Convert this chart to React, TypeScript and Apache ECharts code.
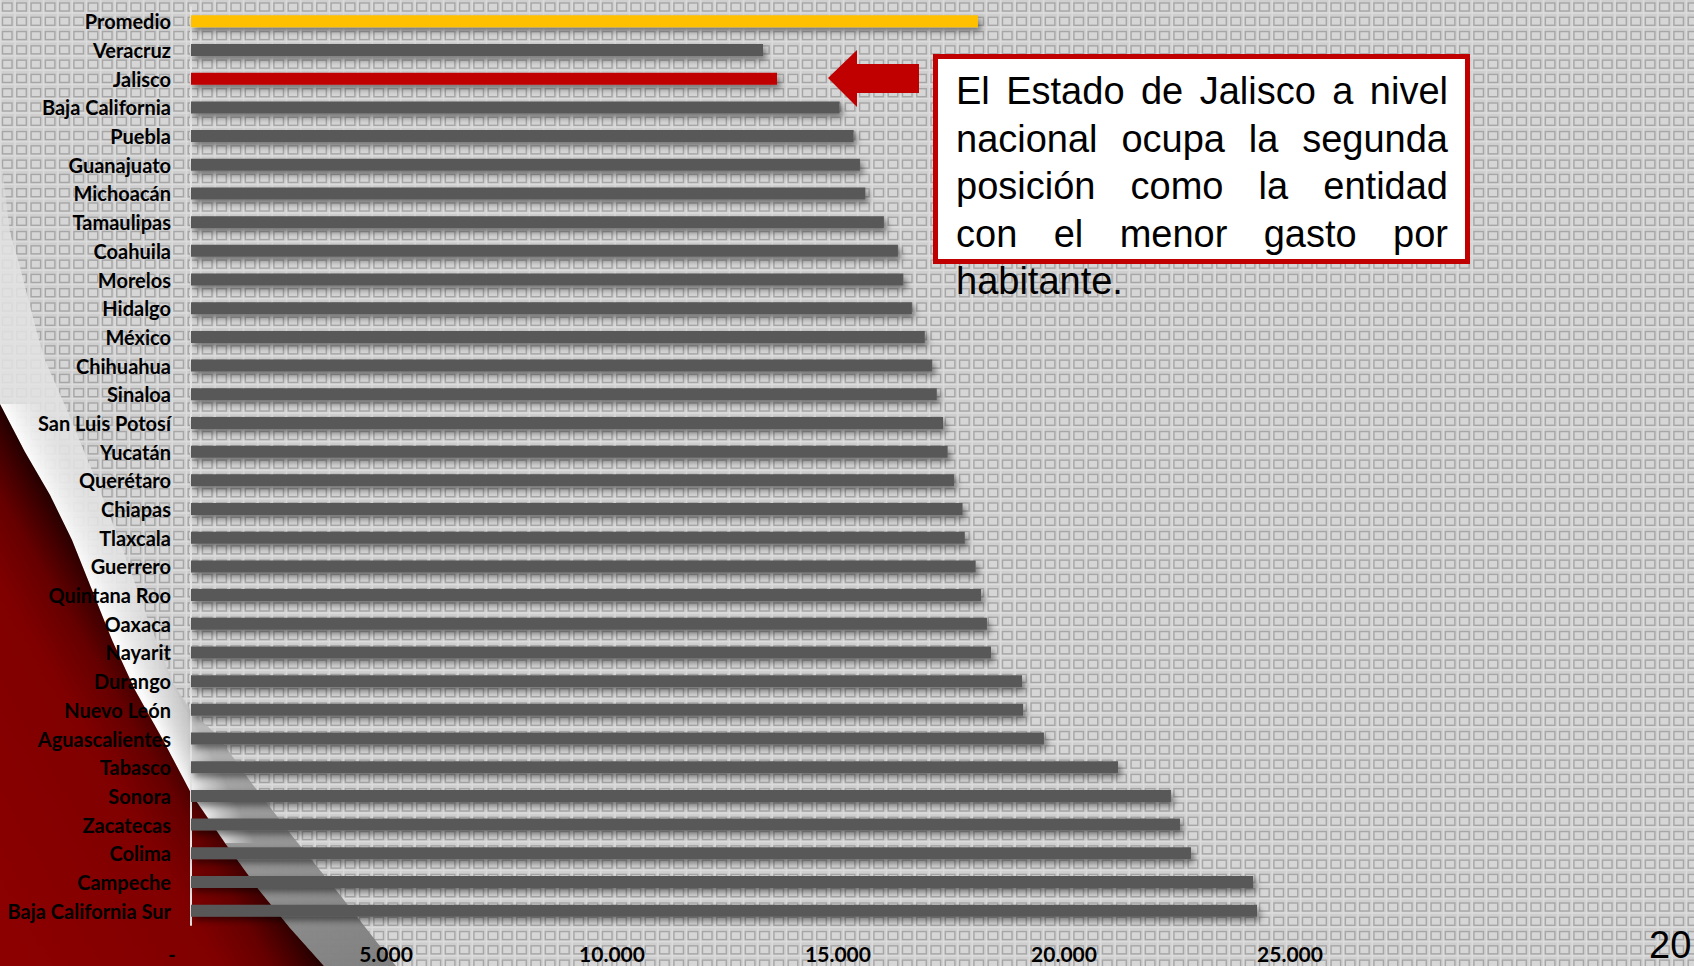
import React, { useEffect, useRef } from "react";
import * as echarts from "echarts";

const W = 1694;
const H = 966;

const categories = [
  "Promedio", "Veracruz", "Jalisco", "Baja California", "Puebla", "Guanajuato",
  "Michoacán", "Tamaulipas", "Coahuila", "Morelos", "Hidalgo", "México",
  "Chihuahua", "Sinaloa", "San Luis Potosí", "Yucatán", "Querétaro", "Chiapas",
  "Tlaxcala", "Guerrero", "Quintana Roo", "Oaxaca", "Nayarit", "Durango",
  "Nuevo León", "Aguascalientes", "Tabasco", "Sonora", "Zacatecas", "Colima",
  "Campeche", "Baja California Sur",
];

const values = [
  17410, 12655, 12965, 14350, 14660, 14800,
  14920, 15330, 15640, 15760, 15950, 16235,
  16400, 16500, 16640, 16740, 16880, 17070,
  17120, 17360, 17480, 17610, 17700, 18385,
  18410, 18870, 20510, 21680, 21880, 22125,
  23500, 23585,
];

const highlightColors: Record<string, string> = {
  Promedio: "#FFC000",
  Jalisco: "#C00000",
};
const defaultBarColor = "#595959";

const xMin = 0;
const xMax = 25000;
const xInterval = 5000;

const annotationLines = [
  "El Estado de Jalisco a nivel",
  "nacional ocupa la segunda",
  "posición como la entidad",
  "con el menor gasto por",
  "habitante.",
];
const pageNumber = "20";

function formatThousands(v: number): string {
  return String(v).replace(/\B(?=(\d{3})+(?!\d))/g, ".");
}

function makePatternCanvas(): HTMLCanvasElement {
  const c = document.createElement("canvas");
  c.width = 100;
  c.height = 100;
  const g = c.getContext("2d")!;
  g.fillStyle = "#cfcfcf";
  g.fillRect(0, 0, 100, 100);
  const p = 100 / 7;
  for (let i = 0; i < 7; i++) {
    for (let j = 0; j < 7; j++) {
      const x0 = i * p;
      const y0 = j * p;
      g.fillStyle = "#dcdcdc";
      g.fillRect(x0, y0, 1.5, p);
      g.fillRect(x0, y0 + p - 2, p, 1.5);
      g.fillStyle = "#d6d6d6";
      g.fillRect(x0 + 2.5, y0 + 3, 9.5, 8);
      g.strokeStyle = "#a6a6a6";
      g.lineWidth = 1.4;
      g.strokeRect(x0 + 2.5, y0 + 3, 9.5, 8);
    }
  }
  return c;
}

export default function App() {
  const ref = useRef<HTMLDivElement>(null);

  useEffect(() => {
    const el = ref.current!;
    const chart = echarts.init(el, undefined, { renderer: "svg", width: W, height: H });

    const patternCanvas = makePatternCanvas();

    // annotation text, justified
    const measure = document.createElement("canvas").getContext("2d")!;
    const annFontSize = 38;
    const annFamily = "Liberation Sans";
    measure.font = `${annFontSize}px "${annFamily}"`;
    const textLeft = 956;
    const textRight = 1448;
    const lineY0 = 91;
    const lineGap = 47.6;
    const annTexts: any[] = [];
    annotationLines.forEach((line, i) => {
      const y = lineY0 + i * lineGap;
      const words = line.split(" ");
      const isLast = i === annotationLines.length - 1;
      if (isLast || words.length < 2) {
        annTexts.push({
          type: "text", z: 110, silent: true,
          style: {
            text: line, x: textLeft, y, fill: "#000",
            fontSize: annFontSize, fontFamily: annFamily,
            align: "left", textAlign: "left", verticalAlign: "middle", textVerticalAlign: "middle",
          },
        });
        return;
      }
      const widths = words.map((w) => measure.measureText(w).width);
      const total = widths.reduce((a, b) => a + b, 0);
      const gap = (textRight - textLeft - total) / (words.length - 1);
      let x = textLeft;
      words.forEach((w, k) => {
        annTexts.push({
          type: "text", z: 110, silent: true,
          style: {
            text: w, x, y, fill: "#000",
            fontSize: annFontSize, fontFamily: annFamily,
            align: "left", textAlign: "left", verticalAlign: "middle", textVerticalAlign: "middle",
          },
        });
        x += widths[k] + gap;
      });
    });

    const redEdge = [
      [0, 404], [25, 452], [50, 495], [72, 540], [92, 590], [112, 640], [135, 690],
      [163, 740], [192, 795], [225, 843], [259, 890], [290, 928], [324, 966],
    ];
    const silverTop = [
      [0, 150], [10, 233], [20, 267], [37, 333], [45, 360], [70, 417], [97, 483],
      [123, 550], [147, 617], [173, 683], [192, 712], [217, 735], [253, 785],
      [293, 837], [340, 895], [383, 950], [396, 966],
    ];
    const silverPts = [...silverTop, ...redEdge.slice().reverse()];
    const redPts = [...redEdge, [0, 966]];
    const rimBase = redEdge.filter((p) => p[0] <= 225);
    const rimPts = [...rimBase, ...rimBase.slice().reverse().map((p) => [p[0] + 40, p[1]])];

    const graphics: any[] = [
      {
        type: "rect", z: -100, silent: true,
        shape: { x: 0, y: 0, width: W, height: H },
        style: { fill: { image: patternCanvas, repeat: "repeat", imageWidth: 100, imageHeight: 100 } },
      },
      {
        type: "polygon", z: -90, silent: true,
        shape: { points: silverPts },
        style: {
          fill: {
            type: "linear", global: true, x: 0, y: 150, x2: 396, y2: 966,
            colorStops: [
              { offset: 0, color: "rgba(215,215,215,0.5)" },
              { offset: 0.1, color: "rgba(226,226,226,0.85)" },
              { offset: 0.5, color: "rgba(226,226,226,0.9)" },
              { offset: 0.62, color: "rgba(200,200,200,0.95)" },
              { offset: 0.76, color: "rgba(155,155,155,0.97)" },
              { offset: 1, color: "rgba(125,125,125,0.97)" },
            ],
          },
        },
      },
      {
        type: "polygon", z: -85, silent: true,
        shape: { points: rimPts },
        style: {
          fill: {
            type: "linear", global: true, x: 92, y: 590, x2: 124.4, y2: 574.2,
            colorStops: [
              { offset: 0, color: "rgba(255,255,255,0.9)" },
              { offset: 0.45, color: "rgba(250,250,250,0.45)" },
              { offset: 1, color: "rgba(245,245,245,0)" },
            ],
          },
        },
      },
      {
        type: "polygon", z: -80, silent: true,
        shape: { points: redPts },
        style: {
          fill: {
            type: "linear", global: true, x: 162, y: 685, x2: -60, y2: 813,
            colorStops: [
              { offset: 0, color: "#220000" },
              { offset: 0.08, color: "#420000" },
              { offset: 0.18, color: "#660000" },
              { offset: 0.35, color: "#800000" },
              { offset: 1, color: "#8c0000" },
            ],
          },
        },
      },
      {
        type: "polygon", z: 100, silent: true,
        shape: {
          points: [[828, 78], [857, 50], [857, 64], [919, 64], [919, 93], [857, 93], [857, 107]],
        },
        style: { fill: "#C00000" },
      },
      {
        type: "rect", z: 100, silent: true,
        shape: { x: 935.5, y: 56.5, width: 532, height: 205 },
        style: { fill: "#ffffff", stroke: "#C00000", lineWidth: 5 },
      },
      ...annTexts,
      {
        type: "text", z: 110, silent: true,
        style: {
          text: pageNumber, x: 1649, y: 945, fill: "#000",
          fontSize: 38, fontFamily: "Liberation Sans",
          align: "left", textAlign: "left", verticalAlign: "middle", textVerticalAlign: "middle",
        },
      },
    ];

    const labelFont = "Lato";
    const tickLabelStyle = {
      fontSize: 21, fontWeight: "bold" as const, fontFamily: labelFont, color: "#000",
    };

    const option: any = {
      animation: false,
      backgroundColor: "transparent",
      grid: { left: 191, right: W - 1321, top: 7, bottom: 41, containLabel: false },
      xAxis: {
        type: "value",
        min: xMin,
        max: xMax,
        interval: xInterval,
        axisLine: { show: false },
        axisTick: { show: false },
        splitLine: { show: false },
        axisLabel: {
          margin: 18,
          formatter: (v: number) => (v === 0 ? "{z|-}" : `{n|${formatThousands(v)}}`),
          rich: {
            z: { ...tickLabelStyle, padding: [0, 38, 0, 0] },
            n: { ...tickLabelStyle, padding: [0, 62, 0, 0] },
          },
        },
      },
      yAxis: {
        type: "category",
        inverse: true,
        data: categories,
        axisLine: { show: true, lineStyle: { color: "#e2e2e2", width: 2 } },
        axisTick: { show: false },
        splitLine: { show: false },
        axisLabel: {
          margin: 20,
          fontSize: 20,
          fontWeight: "bold",
          fontFamily: labelFont,
          color: "#000",
        },
      },
      series: [
        {
          type: "bar",
          barWidth: 12,
          silent: true,
          data: values.map((v, i) => ({
            value: v,
            itemStyle: {
              color: highlightColors[categories[i]] || defaultBarColor,
              shadowColor: "rgba(0,0,0,0.45)",
              shadowBlur: 6,
              shadowOffsetX: 3,
              shadowOffsetY: 4,
            },
          })),
        },
      ],
      graphic: { elements: graphics },
    };

    chart.setOption(option);
    return () => chart.dispose();
  }, []);

  return (
    <div
      ref={ref}
      style={{ position: "fixed", left: 0, top: 0, width: W, height: H, background: "#cfcfcf" }}
    />
  );
}
